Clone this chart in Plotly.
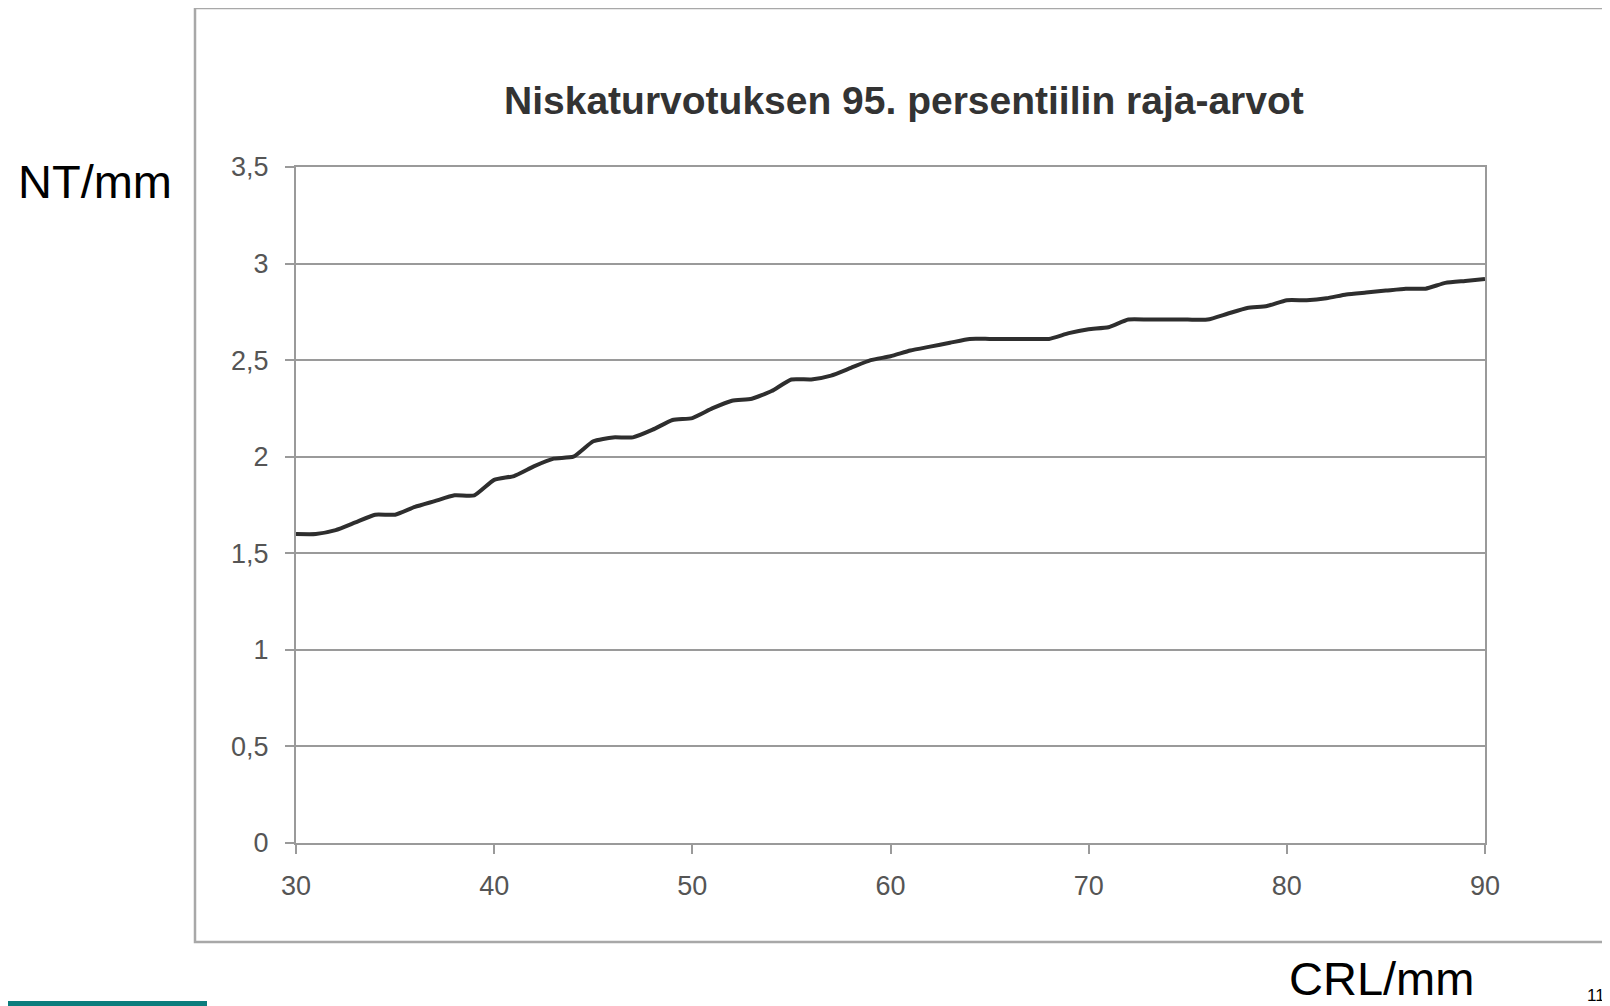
import plotly.graph_objects as go

# Data
crl_mm = list(range(30, 91))
nt_95 = [
    1.60, 1.60, 1.62, 1.66, 1.70, 1.70, 1.74, 1.77, 1.80, 1.80,  # 30-39
    1.88, 1.90, 1.95, 1.99, 2.00, 2.08, 2.10, 2.10, 2.14, 2.19,  # 40-49
    2.20, 2.25, 2.29, 2.30, 2.34, 2.40, 2.40, 2.42, 2.46, 2.50,  # 50-59
    2.52, 2.55, 2.57, 2.59, 2.61, 2.61, 2.61, 2.61, 2.61, 2.64,  # 60-69
    2.66, 2.67, 2.71, 2.71, 2.71, 2.71, 2.71, 2.74, 2.77, 2.78,  # 70-79
    2.81, 2.81, 2.82, 2.84, 2.85, 2.86, 2.87, 2.87, 2.90, 2.91,  # 80-89
    2.92,                                                        # 90
]
x_tickvals = [30, 40, 50, 60, 70, 80, 90]
x_ticktext = ["30", "40", "50", "60", "70", "80", "90"]
y_tickvals = [0, 0.5, 1, 1.5, 2, 2.5, 3, 3.5]
y_ticktext = ["0", "0,5", "1", "1,5", "2", "2,5", "3", "3,5"]

title_text = "Niskaturvotuksen 95. persentiilin raja-arvot"
y_label = "NT/mm"
x_label = "CRL/mm"
page_no = "11"

W, H = 1610, 1006
OFF = 8  # page body margin offset
# plot area in page pixels
L, R, T, B = 296, 1485, 167, 843
L, R, T, B = L - OFF, R - OFF, T - OFF, B - OFF
pw, ph = R - L, B - T

def px(x):
    return (x - OFF - L) / pw

def py(y):
    return (B - (y - OFF)) / ph

FONT = "Liberation Sans, Arial, sans-serif"

fig = go.Figure()
fig.add_trace(go.Scatter(
    x=crl_mm, y=nt_95, mode="lines",
    line=dict(color="#2e2e2e", width=4, shape="spline", smoothing=0.5),
    showlegend=False, hoverinfo="x+y",
))

axis_gray = "#9a9a9a"
tick_font = dict(family=FONT, size=27, color="#555555")

fig.update_layout(
    width=W, height=H, autosize=False,
    margin=dict(l=L, r=W - R, t=T, b=H - B),
    paper_bgcolor="white", plot_bgcolor="white",
    xaxis=dict(
        range=[30, 90], tickvals=x_tickvals, ticktext=x_ticktext,
        showgrid=False, zeroline=False,
        showline=True, linecolor=axis_gray, linewidth=2, mirror=True,
        ticks="outside", ticklen=9, tickwidth=1.5, tickcolor=axis_gray,
        tickfont=tick_font, ticklabelstandoff=9,
    ),
    yaxis=dict(
        range=[0, 3.5], tickvals=y_tickvals, ticktext=y_ticktext,
        showgrid=True, gridcolor=axis_gray, gridwidth=2, zeroline=False,
        showline=True, linecolor=axis_gray, linewidth=2, mirror=True,
        ticks="outside", ticklen=9, tickwidth=1.5, tickcolor=axis_gray,
        tickfont=tick_font, ticklabelstandoff=11,
    ),
    shapes=[
        # scanned chart frame
        dict(type="rect", xref="paper", yref="paper",
             x0=px(195), x1=px(1630), y0=py(942), y1=py(8),
             line=dict(color="#a8a8a8", width=2.5), fillcolor="rgba(0,0,0,0)",
             layer="below"),
        # teal bar bottom-left
        dict(type="rect", xref="paper", yref="paper",
             x0=px(0), x1=px(207), y0=py(1012), y1=py(1001),
             line=dict(width=0), fillcolor="#0b7d7d"),
    ],
    annotations=[
        dict(text="<b>" + title_text + "</b>", xref="paper", yref="paper",
             x=px(904), y=py(100), xanchor="center", yanchor="middle",
             showarrow=False,
             font=dict(family=FONT, size=39, color="#333333")),
        dict(text=y_label, xref="paper", yref="paper",
             x=px(16), y=py(182), xanchor="left", yanchor="middle",
             showarrow=False,
             font=dict(family=FONT, size=47, color="#000000")),
        dict(text=x_label, xref="paper", yref="paper",
             x=px(1288), y=py(1006), xanchor="left", yanchor="bottom",
             showarrow=False, borderpad=0,
             font=dict(family=FONT, size=47, color="#000000")),
        dict(text=page_no, xref="paper", yref="paper",
             x=px(1586), y=py(1006), xanchor="left", yanchor="bottom",
             showarrow=False, borderpad=0,
             font=dict(family=FONT, size=17, color="#000000")),
    ],
)

fig.write_html("out.html")
